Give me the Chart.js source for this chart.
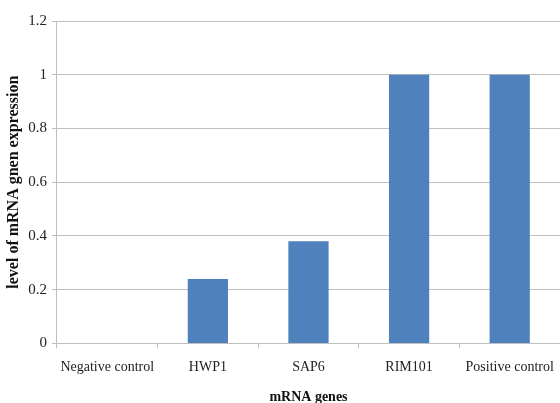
<!DOCTYPE html>
<html>
<head>
<meta charset="utf-8">
<script src="https://cdn.jsdelivr.net/npm/chart.js@4"></script>
<style>
  html, body { margin: 0; padding: 0; background: #fff; }
  #wrap { width: 560px; height: 403px; }
</style>
</head>
<body>
<div id="wrap"><canvas id="chart" width="560" height="403"></canvas></div>
<script>
// data
const genes = ['Negative control', 'HWP1', 'SAP6', 'RIM101', 'Positive control'];
const expression = [0, 0.24, 0.38, 1, 1];
const yTicks = [0, 0.2, 0.4, 0.6, 0.8, 1, 1.2];

const serif = "'Liberation Serif', 'DejaVu Serif', serif";

new Chart(document.getElementById('chart'), {
  type: 'bar',
  data: {
    labels: genes,
    datasets: [{
      data: expression,
      backgroundColor: '#4f81bd',
      borderWidth: 0,
      categoryPercentage: 0.8,
      barPercentage: 0.5
    }]
  },
  options: {
    responsive: false,
    animation: false,
    layout: { padding: { top: 21, right: 0, left: 4, bottom: -3 } },
    plugins: { legend: { display: false }, tooltip: { enabled: false } },
    scales: {
      x: {
        // plot runs to the right edge like the original
        afterFit: s => { s.paddingRight = 0; },
        grid: { display: true, drawOnChartArea: false, color: '#bfbfbf', tickLength: 5, offset: true },
        border: { color: '#bfbfbf' },
        ticks: { color: '#222', font: { family: serif, size: 14 }, padding: 11, maxRotation: 0 },
        title: { display: true, text: 'mRNA genes', color: '#111', font: { family: serif, size: 14, weight: 'bold' }, padding: { top: 2, bottom: 0 } }
      },
      y: {
        min: 0, max: 1.2,
        afterBuildTicks: axis => { axis.ticks = yTicks.map(v => ({ value: v })); },
        grid: { color: '#bfbfbf', tickLength: 5 },
        border: { color: '#bfbfbf' },
        ticks: { color: '#222', font: { family: serif, size: 15 }, padding: 5, callback: v => String(v) },
        title: { display: true, text: 'level of mRNA gnen expression', color: '#111', font: { family: serif, size: 16, weight: 'bold' }, padding: { top: 0, bottom: 0 } }
      }
    }
  }
});
</script>
</body>
</html>
